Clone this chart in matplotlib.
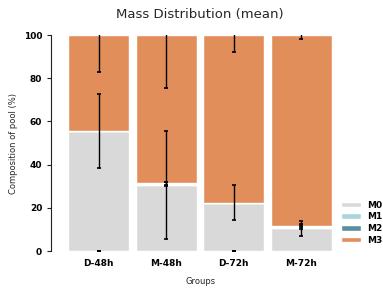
import numpy as np
import matplotlib
matplotlib.use("Agg")
import matplotlib.pyplot as plt
import seaborn as sns

groups = ["D-48h", "M-48h", "D-72h", "M-72h"]
isotopologues = ["M0", "M1", "M2", "M3"]
m0 = [55.5, 30.5, 22.5, 10.5]
m1 = [0.0, 0.5, 0.0, 0.8]
m2 = [0.0, 0.3, 0.0, 0.5]
m3 = [44.5, 68.7, 77.5, 88.2]
m0_err = [17.0, 25.0, 8.0, 3.5]
m1_err = [0.0, 0.8, 0.0, 1.0]
m2_err = [0.0, 0.5, 0.0, 0.8]
m3_err = [17.0, 24.5, 8.0, 2.0]
colors = ["#d9d9d9", "#a8d5dc", "#5a8f9c", "#e28e5a"]

sns.set_style("ticks")
fig, ax = plt.subplots(figsize=(3.83, 2.92), dpi=100)
fig.subplots_adjust(left=0.17, right=0.875, top=0.88, bottom=0.14)

x = np.arange(len(groups))
values = [m0, m1, m2, m3]
errors = [m0_err, m1_err, m2_err, m3_err]
bottom = np.zeros(len(groups))
for name, vals, errs, c in zip(isotopologues, values, errors, colors):
    vals = np.array(vals)
    ax.bar(x, vals, 0.9, bottom=bottom, color=c, edgecolor="white", linewidth=1, label=name)
    # empty fractions put their error mark at the baseline
    ypos = np.where(vals > 0, bottom + vals, 0)
    ax.errorbar(x, ypos, yerr=errs, fmt="none", ecolor="black",
                elinewidth=1, capsize=1.5, capthick=1.2)
    bottom += vals

# despine first: moving the spine resets the tick label styling
sns.despine(ax=ax, offset=10, bottom=True)
ax.spines["left"].set_color("#222222")
ax.set_xlim(-0.5, 3.5)
ax.set_ylim(0, 100)
ax.set_xticks(x)
ax.set_xticklabels(groups, fontweight="bold", fontsize=6.5, color="black")
ax.set_yticks([0, 20, 40, 60, 80, 100])
ax.set_yticklabels(["0", "20", "40", "60", "80", "100"], fontweight="bold",
                   fontsize=6.5, color="black")
ax.tick_params(axis="x", length=0, pad=6)
ax.tick_params(axis="y", length=3, width=0.8, color="#222222")
ax.set_xlabel("Groups", fontsize=6, labelpad=6)
ax.set_ylabel("Composition of pool (%)", fontsize=6)
ax.set_title("Mass Distribution (mean)", fontsize=9.5, pad=12)

leg = ax.legend(loc="lower left", bbox_to_anchor=(1.0, 0.0), frameon=False,
                prop={"weight": "bold", "size": 6.5}, handlelength=2.2,
                handleheight=0.6, labelspacing=0.3, borderaxespad=0.3,
                handletextpad=0.6)
for t in leg.get_texts():
    t.set_color("black")

fig.savefig("out.png", dpi=100)
